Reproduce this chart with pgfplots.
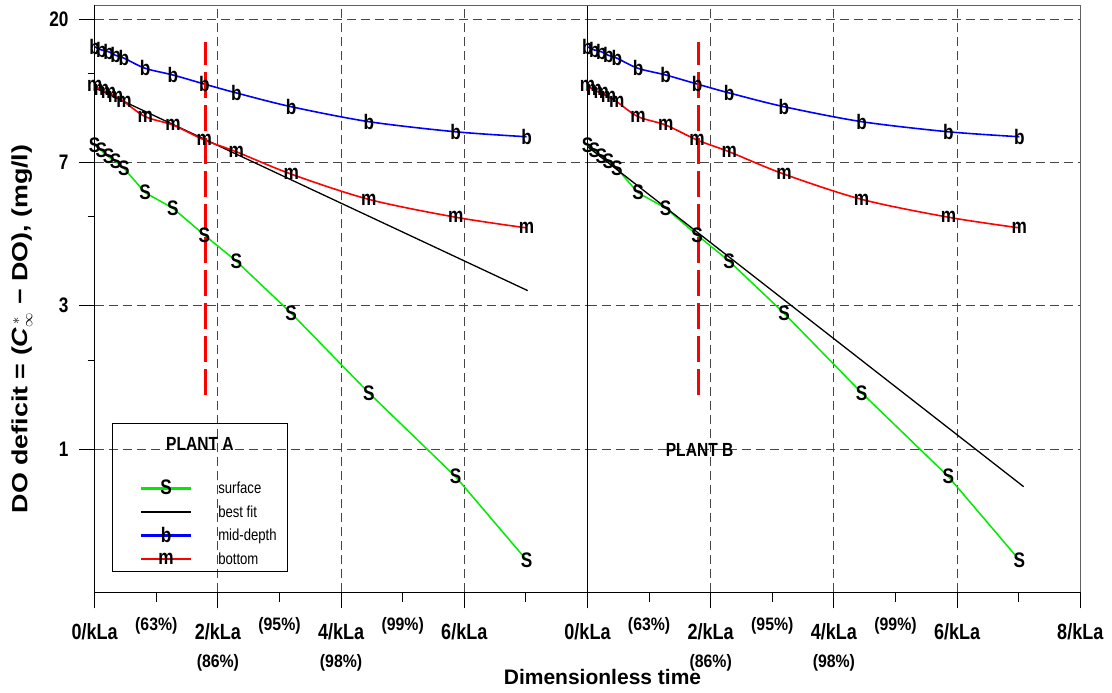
\documentclass[border=0pt]{standalone}
\usepackage{fontspec}
\setmainfont{Liberation Sans}
\newfontfamily\nar[FakeStretch=0.82]{Liberation Sans}
\newfontfamily\narp[FakeStretch=0.88]{Liberation Sans}
\newfontfamily\wide[FakeStretch=1.22]{Liberation Sans}
\usepackage{pgfplots}
\usepackage{pgfplotstable}
\pgfplotsset{compat=1.18}
\definecolor{cgreen}{RGB}{0,235,0}
\definecolor{gridc}{RGB}{70,70,70}
\newcommand\tickfont{\nar\bfseries\fontsize{22}{28}\selectfont}
\newcommand\pctfont{\narp\bfseries\fontsize{18}{28}\selectfont}
\newcommand\ytickfont{\nar\bfseries\fontsize{21}{24}\selectfont}
\newcommand\markfont{\nar\bfseries\fontsize{21}{22}\selectfont}
\newcommand\legfont{\nar\mdseries\fontsize{16}{18}\selectfont}

\pgfplotstableread{
x     b      m      s
0     16.56  12.60  8.34
0.11  16.20  12.24  8.02
0.225 16.00  11.97  7.69
0.34  15.60  11.68  7.43
0.475 15.30  11.29  7.09
0.82  14.25  10.17  5.98
1.27  13.60  9.59   5.37
1.78  12.77  8.64   4.45
2.30  12.00  7.96   3.71
3.19  10.90  6.81   2.58
4.45  9.82   5.71   1.48
5.86  9.15   5.04   0.824
7.01  8.84   4.68   0.461
}\data

\pgfplotsset{
  smk/.style={mark=text, text mark={\markfont #1}, text mark as node=true,
    text mark style={font=\markfont, text=black, inner sep=0pt, anchor=center}},
}

\begin{document}
\begin{tikzpicture}
% ---------------- PLANT A ----------------
\begin{axis}[
  scale only axis, width=492.8pt, height=586.6pt,
  xmin=0, xmax=8, ymode=log, ymin=0.36788, ymax=22.06,
  ytick={1,2.718282,7.389056,20.085537},
  grid=major,
  major grid style={gridc, line width=1pt, dash pattern=on 9pt off 5pt},
  tick align=outside, tick pos=left,
  axis line style={black, line width=1.2pt},
  major tick length=16pt, minor tick length=7pt,
  xtick style={black, line width=1pt},
  ytick style={black, line width=1pt},
  xticklabel style={font=\tickfont, align=center, anchor=north, inner sep=0pt, yshift=-15pt},
  yticklabel style={font=\ytickfont, anchor=east, inner sep=0pt, xshift=-10pt},
  extra x ticks={1,3,5,7},
  extra x tick labels={(63\%),(95\%),(99\%),{}},
  extra x tick style={grid=none, major tick length=10pt,
    xticklabel style={font=\pctfont, anchor=north, inner sep=0pt, yshift=0.3pt}},
  clip=false,
  xtick={0,2,4,6},
  xticklabels={0/kLa,{2/kLa\\{\pctfont (86\%)}},{4/kLa\\{\pctfont (98\%)}},6/kLa},
  yticklabels={1,3,7,20},
  minor ytick={1.857,5.06,13.76},
  legend style={at={(0.0913,0.192)}, anchor=north west,
    draw=none, fill=none, inner sep=0pt, font=\legfont, row sep=6.5pt,
    column sep=24pt},
  legend cell align=left,
  legend image code/.code={\draw[mark repeat=2,mark phase=2,#1, line width=2.4pt]
    plot coordinates {(0pt,0pt) (25pt,0pt) (50pt,0pt)};},
]
\addplot[cgreen, line width=1.5pt, smk={S}] table[x=x,y=s]{\data};
\addlegendentry{surface}
\addplot[black, line width=1.3pt] coordinates {(0,12.44) (7.03,3.02)};
\addlegendentry{best fit}
\addplot[blue, line width=1.6pt, smooth, tension=0.5, smk={b}] table[x=x,y=b]{\data};
\addlegendentry{mid-depth}
\addplot[red, line width=1.6pt, smooth, tension=0.5, smk={m}] table[x=x,y=m]{\data};
\addlegendentry{bottom}
\addplot[red, line width=2.8pt, dash pattern=on 26pt off 7pt, forget plot] coordinates {(1.8,1.46) (1.8,17.1)};
\end{axis}
% ---------------- PLANT B ----------------
\begin{axis}[at={(492.8pt,0pt)},
  scale only axis, width=492.8pt, height=586.6pt,
  xmin=0, xmax=8, ymode=log, ymin=0.36788, ymax=22.06,
  ytick={1,2.718282,7.389056,20.085537},
  grid=major,
  major grid style={gridc, line width=1pt, dash pattern=on 9pt off 5pt},
  tick align=outside, tick pos=left,
  axis line style={black, line width=1.2pt},
  major tick length=16pt,
  xtick style={black, line width=1pt},
  ytick style={draw=none},
  xticklabel style={font=\tickfont, align=center, anchor=north, inner sep=0pt, yshift=-15pt},
  extra x ticks={1,3,5,7},
  extra x tick labels={(63\%),(95\%),(99\%),{}},
  extra x tick style={grid=none, major tick length=10pt,
    xticklabel style={font=\pctfont, anchor=north, inner sep=0pt, yshift=0.3pt}},
  clip=false,
  xtick={0,2,4,6,8},
  xticklabels={0/kLa,{2/kLa\\{\pctfont (86\%)}},{4/kLa\\{\pctfont (98\%)}},6/kLa,8/kLa},
  yticklabels={},
]
\addplot[cgreen, line width=1.5pt, smk={S}] table[x=x,y=s]{\data};
\addplot[black, line width=1.3pt] coordinates {(0,8.25) (7.08,0.769)};
\addplot[blue, line width=1.6pt, smooth, tension=0.5, smk={b}] table[x=x,y=b]{\data};
\addplot[red, line width=1.6pt, smooth, tension=0.5, smk={m}] table[x=x,y=m]{\data};
\addplot[red, line width=2.8pt, dash pattern=on 26pt off 7pt] coordinates {(1.8,1.46) (1.8,17.1)};
\end{axis}
% frame details
\draw[gray!75!black, line width=1.2pt] (0pt,586.6pt) -- (985.6pt,586.6pt) -- (985.6pt,0pt);
% legend box and labels
\draw[black, line width=1pt] (17.6pt,20.6pt) rectangle (193pt,168.3pt);
\node[anchor=base, font=\nar\bfseries\fontsize{19}{20}\selectfont] at (105.3pt,141.6pt) {PLANT A};
\node[anchor=base, font=\nar\bfseries\fontsize{19}{20}\selectfont] at (604.9pt,135.6pt) {PLANT B};
\node[anchor=base, font=\bfseries\fontsize{21}{24}\selectfont] at (507.8pt,-92.7pt) {Dimensionless time};
\node[anchor=base, rotate=90, font=\wide\bfseries\fontsize{22}{24}\selectfont] at (-67.4pt,263.3pt)
  {DO deficit = (\textit{C}$_{\infty}^{\,*}$ − DO), (mg/l)};
\pgfresetboundingbox
\path[use as bounding box] (-94.7pt,-100.7pt) rectangle (1017.3pt,592.3pt);
\end{tikzpicture}
\end{document}
